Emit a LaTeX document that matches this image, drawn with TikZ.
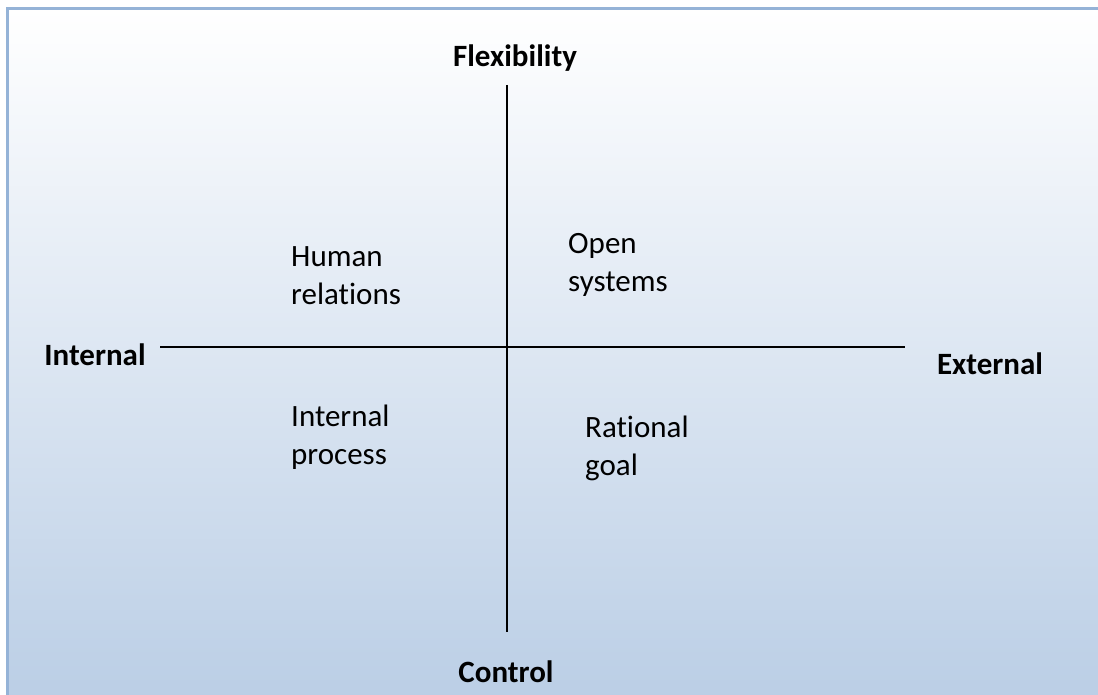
\documentclass[tikz,border=0pt]{standalone}
\usepackage{fontspec}
\setmainfont{Carlito}[Ligatures=NoCommon]
\usepackage{tikz}
\usetikzlibrary{positioning,calc}

\definecolor{frameblue}{RGB}{149,179,215}
\definecolor{shadeblue}{RGB}{185,205,229}

\begin{document}
\begin{tikzpicture}[x=1pt,y=1pt,
    axislabel/.style={font=\fontsize{31}{38}\selectfont\bfseries, inner sep=0pt, anchor=base},
    quadrant/.style={font=\fontsize{31}{38}\selectfont, inner sep=0pt, align=left, anchor=base west},
    axis/.style={line width=1.6pt, black}]
    \useasboundingbox (0,0) rectangle (1098,695);

    % Background panel with gradient
    \begin{scope}
        \clip (0,0) rectangle (1098,695);
        \shade[top color=white, bottom color=shadeblue] (7.3,-20) rectangle (1130,686.5);
        \draw[frameblue, line width=2.6pt] (7.3,-20) rectangle (1130,686.5);
    \end{scope}

    % Axis labels
    \node[axislabel] (flex) at (515,628) {Flexibility};
    \node[axislabel] (ctrl) at (506,12) {Control};
    \node[axislabel] (intl) at (95,329) {Internal};
    \node[axislabel] (extl) at (990,320) {External};

    % Axis ends
    \coordinate (vtop) at (507,610);
    \coordinate (vbot) at (507,63);
    \coordinate (hleft) at (160,348);
    \coordinate (hright) at (905,348);

    % Draw the axes
    \draw[axis] (vtop) -- (vbot);
    \draw[axis] (hleft) -- (hright);

    % Quadrant labels (base = last line)
    \node[quadrant] (human) at (291,390) {Human\\relations};
    \node[quadrant] (open) at (568,403) {Open\\systems};
    \node[quadrant] (process) at (291,230) {Internal\\process};
    \node[quadrant] (goal) at (585,219) {Rational\\goal};
\end{tikzpicture}
\end{document}
